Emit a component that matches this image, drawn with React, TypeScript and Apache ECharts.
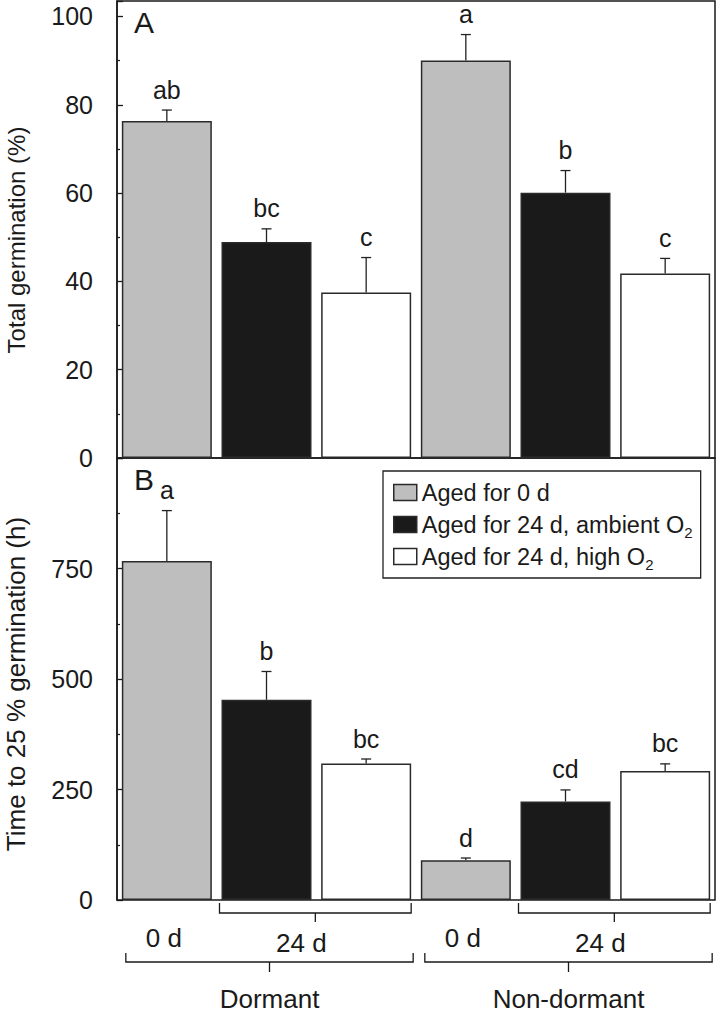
import React, { useEffect, useRef } from "react";
import * as echarts from "echarts";

// ---- data ----
const categories = [
  "Dormant, aged 0 d",
  "Dormant, aged 24 d ambient O2",
  "Dormant, aged 24 d high O2",
  "Non-dormant, aged 0 d",
  "Non-dormant, aged 24 d ambient O2",
  "Non-dormant, aged 24 d high O2",
];
const treatments = ["Aged for 0 d", "Aged for 24 d, ambient O2", "Aged for 24 d, high O2"];
const treatmentOfBar = [0, 1, 2, 0, 1, 2];
const treatmentColors = ["#bebebe", "#1a1a1a", "#ffffff"];

const germValues = [76.3, 48.9, 37.5, 90.0, 60.1, 41.8];
const germErrors = [2.5, 3.0, 7.9, 5.9, 5.0, 3.4];
const germLetters = ["ab", "bc", "c", "a", "b", "c"];

const timeValues = [767, 453, 309, 90, 223, 292];
const timeErrors = [114, 64, 10, 5, 26, 16];
const timeLetters = ["a", "b", "bc", "d", "cd", "bc"];

const groupLabels = ["Dormant", "Non-dormant"];
const ageLabels = ["0 d", "24 d"];
const panelLabels = ["A", "B"];
const axisTitles = ["Total germination (%)", "Time to 25 % germination (h)"];

const FONT = "'Liberation Sans', Arial, Helvetica, sans-serif";
const INK = "#1a1a1a";

function barSeries(values: number[], g: number) {
  return treatments.map((name, t) => ({
    type: "bar",
    name,
    xAxisIndex: g,
    yAxisIndex: g,
    data: values.map((v, i) => (treatmentOfBar[i] === t ? v : "-")),
    barWidth: 90,
    barGap: "-100%",
    itemStyle: { color: treatmentColors[t], borderColor: "#2a2a2a", borderWidth: 1.5 },
  }));
}

function errSeries(values: number[], errors: number[], letters: string[], g: number) {
  return {
    type: "custom",
    xAxisIndex: g,
    yAxisIndex: g,
    clip: false,
    z: 5,
    data: values.map((v, i) => [i, v, v + errors[i]]),
    encode: { x: 0, y: [1, 2] },
    renderItem: (params: any, api: any) => {
      const i = api.value(0);
      const base = api.coord([i, api.value(1)]);
      const top = api.coord([i, api.value(2)]);
      const st = { stroke: "#222", lineWidth: 1.3 };
      return {
        type: "group",
        children: [
          { type: "line", shape: { x1: base[0], y1: base[1], x2: top[0], y2: top[1] }, style: st },
          { type: "line", shape: { x1: top[0] - 5, y1: top[1], x2: top[0] + 5, y2: top[1] }, style: st },
          {
            type: "text",
            x: top[0],
            y: top[1] - 8,
            style: {
              text: letters[params.dataIndex],
              fill: INK,
              font: `25px ${FONT}`,
              textAlign: "center",
              textVerticalAlign: "bottom",
              align: "center",
              verticalAlign: "bottom",
            },
          },
        ],
      };
    },
  };
}

export default function App() {
  const ref = useRef<HTMLDivElement>(null);
  useEffect(() => {
    if (!ref.current) return;
    const chart = echarts.init(ref.current, null, { renderer: "svg" });
    const yAxisCommon = {
      type: "value",
      min: 0,
      axisLine: { show: true, lineStyle: { color: INK, width: 1.5 } },
      axisTick: { show: true, inside: true, length: 6, lineStyle: { color: INK, width: 1.3 } },
      minorTick: { show: true, splitNumber: 2, length: 3, lineStyle: { color: INK, width: 1.2 } },
      splitLine: { show: false },
      axisLabel: { color: INK, fontSize: 25, fontFamily: FONT, margin: 24, showMaxLabel: false },
    };
    const xAxisCommon = {
      type: "category",
      data: categories,
      axisLine: { show: false },
      axisTick: { show: false },
      axisLabel: { show: false },
    };
    const option: any = {
      animation: false,
      textStyle: { fontFamily: FONT },
      grid: [
        { left: 117, top: 1, width: 598, height: 457, show: true, borderColor: INK, borderWidth: 1.5 },
        { left: 117, top: 458, width: 598, height: 442, show: true, borderColor: INK, borderWidth: 1.5 },
      ],
      xAxis: [
        { ...xAxisCommon, gridIndex: 0 },
        { ...xAxisCommon, gridIndex: 1 },
      ],
      yAxis: [
        { ...yAxisCommon, gridIndex: 0, max: 103.5, interval: 20 },
        { ...yAxisCommon, gridIndex: 1, max: 1000, interval: 250 },
      ],
      legend: {
        data: treatments,
        orient: "vertical",
        left: 383,
        top: 471,
        icon: "rect",
        itemWidth: 23,
        itemHeight: 16,
        itemGap: 1,
        padding: [6, 8, 6, 10],
        borderColor: "#222",
        borderWidth: 1.3,
        backgroundColor: "#fff",
        selectedMode: false,
        itemStyle: { borderColor: "#2a2a2a", borderWidth: 1.5 },
        formatter: (name: string) => name.replace("O2", "O{sub|2}"),
        textStyle: {
          color: INK,
          fontSize: 23.5,
          lineHeight: 31,
          fontFamily: FONT,
          rich: { sub: { fontSize: 15, lineHeight: 19, verticalAlign: "bottom", color: INK, fontFamily: FONT } },
        },
      },
      series: [
        ...barSeries(germValues, 0),
        errSeries(germValues, germErrors, germLetters, 0),
        ...barSeries(timeValues, 1),
        errSeries(timeValues, timeErrors, timeLetters, 1),
      ],
    };
    chart.setOption(option);

    // annotations positioned from the axes
    const cx = (i: number) => chart.convertToPixel({ xAxisIndex: 1 }, categories[i]) as number;
    const base = chart.convertToPixel({ yAxisIndex: 1 }, 0) as number;
    const topGrid = [chart.convertToPixel({ yAxisIndex: 0 }, 103.5) as number, chart.convertToPixel({ yAxisIndex: 1 }, 1000) as number];
    const half = 45;
    const lineStyle = { stroke: INK, lineWidth: 1.3, fill: "none" };
    const txt = (text: string, x: number, y: number, size: number, extra: any = {}) => ({
      type: "text",
      x,
      y,
      ...extra,
      style: { text, fill: INK, font: `${size}px ${FONT}`, textAlign: "center", textVerticalAlign: "middle" },
    });
    const graphics: any[] = [];
    [0, 3].forEach((g, gi) => {
      // small bracket for 24 d bars
      const sL = cx(g + 1) - half - 2;
      const sR = cx(g + 2) + half;
      const sC = (sL + sR) / 2;
      graphics.push({ type: "polyline", shape: { points: [[sL, base + 3], [sL, base + 13], [sR, base + 13], [sR, base + 3]] }, style: lineStyle });
      graphics.push({ type: "line", shape: { x1: sC, y1: base + 13, x2: sC, y2: base + 22 }, style: lineStyle });
      // big bracket for group
      const bL = cx(g) - half + 4;
      const bR = cx(g + 2) + half + 2;
      const bC = (bL + bR) / 2;
      graphics.push({ type: "polyline", shape: { points: [[bL, base + 53], [bL, base + 62], [bR, base + 62], [bR, base + 53]] }, style: lineStyle });
      graphics.push({ type: "line", shape: { x1: bC, y1: base + 62, x2: bC, y2: base + 72 }, style: lineStyle });
      graphics.push(txt(ageLabels[0], cx(g) - 3, base + 38, 26));
      graphics.push(txt(ageLabels[1], sC - 14, base + 43, 26));
      graphics.push(txt(groupLabels[gi], bC, base + 99, 26));
    });
    panelLabels.forEach((p, i) => {
      graphics.push({
        type: "text",
        x: 134,
        y: topGrid[i] + 6,
        style: { text: p, fill: INK, font: `30px ${FONT}`, textAlign: "left", textVerticalAlign: "top" },
      });
    });
    graphics.push(txt(axisTitles[0], 16, 240, 24, { rotation: Math.PI / 2 }));
    graphics.push(txt(axisTitles[1], 16, 684, 26, { rotation: Math.PI / 2 }));
    chart.setOption({ graphic: graphics });

    return () => chart.dispose();
  }, []);
  return (
    <div
      ref={ref}
      style={{ position: "absolute", left: 0, top: 0, width: 716, height: 1014, background: "#fff" }}
    />
  );
}
